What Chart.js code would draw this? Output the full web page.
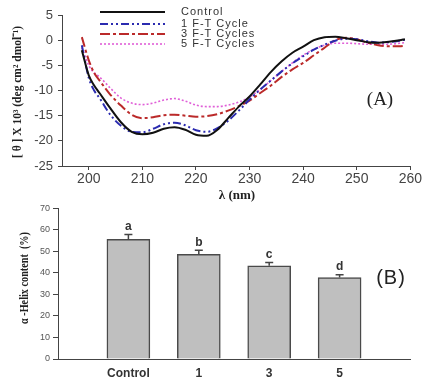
<!DOCTYPE html>
<html>
<head>
<meta charset="utf-8">
<title>CD spectra and helix content</title>
<script src="https://cdn.jsdelivr.net/npm/chart.js@4.4.0/dist/chart.umd.min.js"></script>
<style>
  body { margin: 0; background: #fff; }
  #cdChart { position: absolute; left: 0; top: 0; }
  #helixChart { position: absolute; left: 0; top: 200px; }
</style>
</head>
<body>
<canvas id="cdChart" width="423" height="205"></canvas>
<canvas id="helixChart" width="423" height="179"></canvas>
<script>
// panel A - CD spectra
var wavelengths = [198.7, 200, 201, 202, 204, 206, 208, 210, 212, 214, 216, 218, 220, 222, 224, 226, 228, 230, 232, 234, 236, 238, 240, 242, 244, 246, 248, 250, 252, 254, 256, 258, 259];
var control = [-2, -7, -9, -10.5, -13.5, -16.3, -18.2, -18.7, -18.4, -17.6, -17.3, -17.8, -18.8, -19.0, -17.8, -15.5, -13.2, -11.2, -8.8, -6.3, -4.2, -2.5, -1.3, 0, 0.6, 0.7, 0.4, 0.0, -0.4, -0.5, -0.3, 0.0, 0.2];
var ft1 = [-1, -7.5, -10, -11.5, -14.8, -17, -18.2, -18.3, -17.6, -16.7, -16.4, -16.9, -17.9, -18.2, -17.5, -16.0, -14.0, -11.8, -9.8, -8.0, -6.2, -4.6, -3.2, -1.9, -0.9, -0.1, 0.3, 0.2, -0.2, -0.5, -0.4, -0.1, 0.1];
var ft3 = [0.6, -4, -6.5, -8, -10.8, -13, -14.8, -15.5, -15.3, -14.9, -14.8, -15.0, -15.2, -15.1, -14.7, -14.0, -13.1, -12.0, -10.5, -9.0, -7.3, -5.8, -4.5, -3.0, -1.5, 0.0, 0.5, 0.2, -0.5, -1.0, -1.2, -1.2, -1.1];
var ft5 = [-1.5, -5, -6.5, -7.3, -9.5, -11.5, -12.5, -12.8, -12.5, -11.9, -11.6, -12.1, -12.9, -13.2, -13.2, -12.9, -12.3, -11.3, -9.8, -8.0, -6.2, -4.5, -3.0, -1.8, -1.0, -0.6, -0.6, -0.7, -0.8, -0.8, -0.8, -0.6, -0.5];
var seriesNames = ['Control', '1 F-T Cycle', '3 F-T Cycles', '5 F-T Cycles'];
var xTicksA = [200, 210, 220, 230, 240, 250, 260];
var yTicksA = [5, 0, -5, -10, -15, -20, -25];

// panel B - helix content
var treatments = ['Control', '1', '3', '5'];
var helix = [55.6, 48.7, 43.3, 37.9];
var helixErr = [2.3, 1.8, 1.5, 1.3];
var helixLetters = ['a', 'b', 'c', 'd'];
var yTicksB = [0, 10, 20, 30, 40, 50, 60, 70];

var sans = '"Liberation Sans", Arial, sans-serif';
var serif = '"Liberation Serif", "Times New Roman", serif';

function toPoints(values) {
  return wavelengths.map(function (w, i) {
    return { x: w, y: values[i] };
  });
}

function fixedTicks(list) {
  return function (scale) {
    scale.ticks = list.map(function (v) { return { value: v }; });
  };
}

var cdExtras = {
  id: 'cdExtras',
  afterDraw: function (chart) {
    var ctx = chart.ctx;
    var rows = [12, 24, 34, 44];
    ctx.save();
    chart.data.datasets.forEach(function (ds, i) {
      ctx.beginPath();
      ctx.strokeStyle = ds.borderColor;
      ctx.lineWidth = ds.borderWidth;
      ctx.setLineDash(ds.borderDash || []);
      ctx.moveTo(100, rows[i]);
      ctx.lineTo(165, rows[i]);
      ctx.stroke();
      ctx.setLineDash([]);
      ctx.fillStyle = '#333';
      ctx.font = '11px ' + sans;
      ctx.letterSpacing = '1px';
      ctx.textAlign = 'left';
      ctx.textBaseline = 'middle';
      ctx.fillText(ds.label, 181, rows[i]);
      ctx.letterSpacing = '0px';
    });

    ctx.fillStyle = '#222';
    ctx.textAlign = 'center';
    ctx.font = 'bold 13px ' + serif;
    ctx.fillText('\u03bb (nm)', 237, 196);

    ctx.font = '19px ' + serif;
    ctx.fillText('(A)', 380, 100);

    ctx.translate(18, 92);
    ctx.rotate(-Math.PI / 2);
    ctx.font = 'bold 13px ' + serif;
    ctx.fillText('[ \u03b8 ] X 10\u00b3 (deg cm\u00b2 dmol\u207b\u00b9)', 0, 0, 132);
    ctx.restore();
  }
};

var helixExtras = {
  id: 'helixExtras',
  afterDatasetsDraw: function (chart) {
    var ctx = chart.ctx;
    var meta = chart.getDatasetMeta(0);
    var yScale = chart.scales.y;
    ctx.save();
    ctx.strokeStyle = '#444';
    ctx.lineWidth = 1.5;
    ctx.fillStyle = '#333';
    ctx.font = 'bold 12px ' + sans;
    ctx.textAlign = 'center';
    ctx.textBaseline = 'middle';
    helix.forEach(function (v, i) {
      var bar = meta.data[i + 1];
      var top = yScale.getPixelForValue(v + helixErr[i]);
      ctx.beginPath();
      ctx.moveTo(bar.x, bar.y);
      ctx.lineTo(bar.x, top);
      ctx.moveTo(bar.x - 4, top);
      ctx.lineTo(bar.x + 4, top);
      ctx.stroke();
      ctx.fillText(helixLetters[i], bar.x, top - 8);
    });
    ctx.restore();
  },
  afterDraw: function (chart) {
    var ctx = chart.ctx;
    ctx.save();
    ctx.fillStyle = '#222';
    ctx.textAlign = 'center';
    ctx.textBaseline = 'middle';
    ctx.font = '20px ' + sans;
    ctx.letterSpacing = '1px';
    ctx.fillText('(B)', 391, 78);
    ctx.letterSpacing = '0px';
    ctx.translate(25, 78);
    ctx.rotate(-Math.PI / 2);
    ctx.font = 'bold 12px ' + serif;
    ctx.fillText('\u03b1 -Helix content  (%)', 0, 0, 92);
    ctx.restore();
  }
};

document.addEventListener('DOMContentLoaded', function () {
  var ctxA = document.getElementById('cdChart').getContext('2d');
  var cdChart = new Chart(ctxA, {
    type: 'line',
    data: {
      datasets: [
        { label: seriesNames[0], data: toPoints(control), borderColor: '#111', borderWidth: 2 },
        { label: seriesNames[1], data: toPoints(ft1), borderColor: '#2b2bb0', borderWidth: 2, borderDash: [8, 3, 2, 3, 2, 3] },
        { label: seriesNames[2], data: toPoints(ft3), borderColor: '#bb2a2a', borderWidth: 2, borderDash: [10, 3, 3, 3] },
        { label: seriesNames[3], data: toPoints(ft5), borderColor: '#e060d8', borderWidth: 1.6, borderDash: [2, 2] }
      ]
    },
    options: {
      responsive: false,
      animation: false,
      cubicInterpolationMode: 'monotone',
      elements: { point: { radius: 0 } },
      layout: { padding: { left: 0, top: 15, right: 11, bottom: 0 } },
      plugins: { legend: { display: false }, tooltip: { enabled: false } },
      scales: {
        x: {
          type: 'linear',
          min: 195,
          max: 260,
          afterBuildTicks: fixedTicks(xTicksA),
          afterFit: function (scale) { scale.height = 39; },
          grid: { drawOnChartArea: false, tickLength: 4, color: '#444' },
          border: { color: '#444', width: 1 },
          ticks: { color: '#444', padding: 1, maxRotation: 0, font: { family: sans, size: 14 } }
        },
        y: {
          min: -25,
          max: 5,
          afterBuildTicks: fixedTicks(yTicksA),
          afterFit: function (scale) { scale.width = 62; },
          grid: { drawOnChartArea: false, tickLength: 4, color: '#444' },
          border: { color: '#444', width: 1 },
          ticks: { color: '#444', padding: 5, font: { family: sans, size: 13 } }
        }
      }
    },
    plugins: [cdExtras]
  });

  var ctxB = document.getElementById('helixChart').getContext('2d');
  var helixChart = new Chart(ctxB, {
    type: 'bar',
    data: {
      labels: [''].concat(treatments, ['']),
      datasets: [{
        data: [null].concat(helix, [null]),
        backgroundColor: '#bfbfbf',
        borderColor: '#4a4a4a',
        borderWidth: 1.5,
        borderSkipped: 'bottom',
        barThickness: 43
      }]
    },
    options: {
      responsive: false,
      animation: false,
      layout: { padding: { left: 0, top: 7, right: 13, bottom: 0 } },
      plugins: { legend: { display: false }, tooltip: { enabled: false } },
      scales: {
        x: {
          offset: false,
          afterFit: function (scale) { scale.height = 20; },
          grid: { display: false, drawTicks: false, tickLength: 0, offset: false },
          border: { color: '#444', width: 1 },
          ticks: { color: '#333', padding: 7, autoSkip: false, maxRotation: 0, font: { family: sans, size: 12, weight: 'bold' } }
        },
        y: {
          min: 0,
          max: 70,
          afterBuildTicks: fixedTicks(yTicksB),
          afterFit: function (scale) { scale.width = 58; },
          grid: { drawOnChartArea: false, tickLength: 5, color: '#444' },
          border: { color: '#444', width: 1 },
          ticks: { color: '#555', padding: 3, font: { family: sans, size: 9 } }
        }
      }
    },
    plugins: [helixExtras]
  });
});
</script>
</body>
</html>
